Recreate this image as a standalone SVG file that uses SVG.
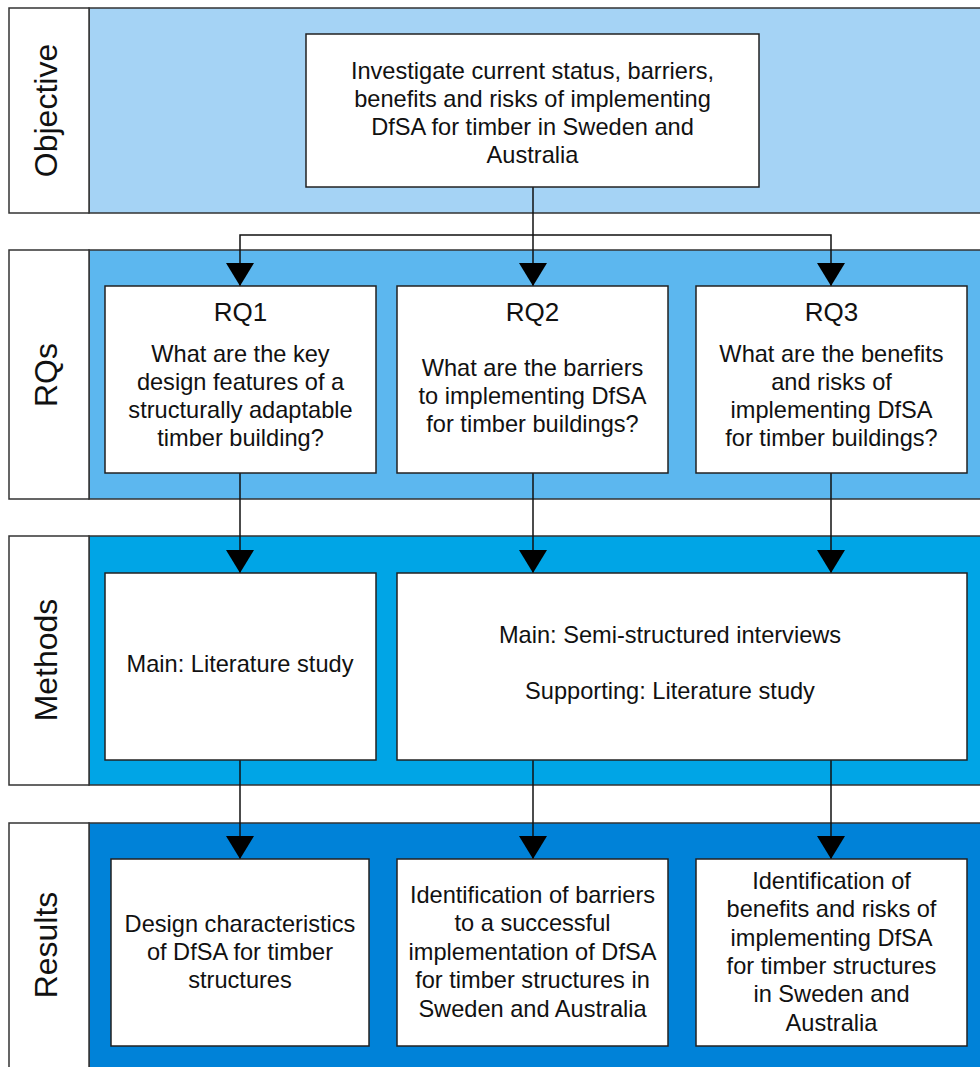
<svg xmlns="http://www.w3.org/2000/svg" width="980" height="1067" viewBox="0 0 980 1067">
<defs>
<style>
.lbl{fill:#fff;stroke:#333;stroke-width:1.5}
.lane{stroke:#333;stroke-width:1.5}
.box{fill:#fff;stroke:#222;stroke-width:1.5}
.t{font-family:"Liberation Sans",Arial,sans-serif;font-size:23.6px;fill:#111;text-anchor:middle}
.tt{font-family:"Liberation Sans",Arial,sans-serif;font-size:26px;fill:#111;text-anchor:middle}
.lt{font-family:"Liberation Sans",Arial,sans-serif;font-size:32px;fill:#111;text-anchor:middle}
.c{fill:none;stroke:#111;stroke-width:1.5}
</style>
<marker id="ah" viewBox="0 0 23 28" refX="23" refY="14" markerWidth="23" markerHeight="28" markerUnits="userSpaceOnUse" orient="auto">
<path d="M0,0 L23,14 L0,28 Z" fill="#000"/>
</marker>
</defs>
<rect width="980" height="1067" fill="#fff"/>

<g id="lane-objective">
<rect class="lane" x="89" y="8" width="900" height="205" fill="#a5d3f5"/>
<rect class="lbl" x="9" y="8" width="80" height="205"/>
<text class="lt" transform="translate(57,110.5) rotate(-90)">Objective</text>
</g>
<g id="lane-rqs">
<rect class="lane" x="89" y="250" width="900" height="249" fill="#5cb7ef"/>
<rect class="lbl" x="9" y="250" width="80" height="249"/>
<text class="lt" transform="translate(57,375) rotate(-90)">RQs</text>
</g>
<g id="lane-methods">
<rect class="lane" x="89" y="536" width="900" height="249" fill="#00a5e6"/>
<rect class="lbl" x="9" y="536" width="80" height="249"/>
<text class="lt" transform="translate(57,660) rotate(-90)">Methods</text>
</g>
<g id="lane-results">
<rect class="lane" x="89" y="823" width="900" height="250" fill="#0082d8"/>
<rect class="lbl" x="9" y="823" width="80" height="250"/>
<text class="lt" transform="translate(57,945) rotate(-90)">Results</text>
</g>

<g id="connectors">
<path class="c" d="M533,187 V286" marker-end="url(#ah)"/>
<path class="c" d="M533,235 H240 V286" marker-end="url(#ah)"/>
<path class="c" d="M533,235 H831 V286" marker-end="url(#ah)"/>
<path class="c" d="M240,473 V573" marker-end="url(#ah)"/>
<path class="c" d="M533,473 V573" marker-end="url(#ah)"/>
<path class="c" d="M831,473 V573" marker-end="url(#ah)"/>
<path class="c" d="M240,760 V859" marker-end="url(#ah)"/>
<path class="c" d="M533,760 V859" marker-end="url(#ah)"/>
<path class="c" d="M831,760 V859" marker-end="url(#ah)"/>
</g>

<g id="objective">
<rect class="box" x="306" y="34" width="453" height="153"/>
<text class="t" x="532.5" y="79">Investigate current status, barriers,</text>
<text class="t" x="532.5" y="107">benefits and risks of implementing</text>
<text class="t" x="532.5" y="135">DfSA for timber in Sweden and</text>
<text class="t" x="532.5" y="163">Australia</text>
</g>

<g id="rq1">
<rect class="box" x="105" y="286" width="271" height="187"/>
<text class="tt" x="240.5" y="321">RQ1</text>
<text class="t" x="240.5" y="362">What are the key</text>
<text class="t" x="240.5" y="390">design features of a</text>
<text class="t" x="240.5" y="418">structurally adaptable</text>
<text class="t" x="240.5" y="446">timber building?</text>
</g>
<g id="rq2">
<rect class="box" x="397" y="286" width="271" height="187"/>
<text class="tt" x="532.5" y="321">RQ2</text>
<text class="t" x="532.5" y="376">What are the barriers</text>
<text class="t" x="532.5" y="404">to implementing DfSA</text>
<text class="t" x="532.5" y="432">for timber buildings?</text>
</g>
<g id="rq3">
<rect class="box" x="696" y="286" width="271" height="187"/>
<text class="tt" x="831.5" y="321">RQ3</text>
<text class="t" x="831.5" y="362">What are the benefits</text>
<text class="t" x="831.5" y="390">and risks of</text>
<text class="t" x="831.5" y="418">implementing DfSA</text>
<text class="t" x="831.5" y="446">for timber buildings?</text>
</g>

<g id="method1">
<rect class="box" x="105" y="573" width="271" height="187"/>
<text class="t" x="240" y="672">Main: Literature study</text>
</g>
<g id="method2">
<rect class="box" x="397" y="573" width="570" height="187"/>
<text class="t" x="670" y="643">Main: Semi-structured interviews</text>
<text class="t" x="670" y="699">Supporting: Literature study</text>
</g>

<g id="result1">
<rect class="box" x="111" y="859" width="258" height="187"/>
<text class="t" x="240" y="932">Design characteristics</text>
<text class="t" x="240" y="960">of DfSA for timber</text>
<text class="t" x="240" y="988">structures</text>
</g>
<g id="result2">
<rect class="box" x="397" y="859" width="271" height="187"/>
<text class="t" x="532.5" y="903">Identification of barriers</text>
<text class="t" x="532.5" y="931">to a successful</text>
<text class="t" x="532.5" y="960">implementation of DfSA</text>
<text class="t" x="532.5" y="988">for timber structures in</text>
<text class="t" x="532.5" y="1017">Sweden and Australia</text>
</g>
<g id="result3">
<rect class="box" x="696" y="859" width="271" height="187"/>
<text class="t" x="831.5" y="889">Identification of</text>
<text class="t" x="831.5" y="917">benefits and risks of</text>
<text class="t" x="831.5" y="946">implementing DfSA</text>
<text class="t" x="831.5" y="974">for timber structures</text>
<text class="t" x="831.5" y="1002">in Sweden and</text>
<text class="t" x="831.5" y="1031">Australia</text>
</g>
</svg>
